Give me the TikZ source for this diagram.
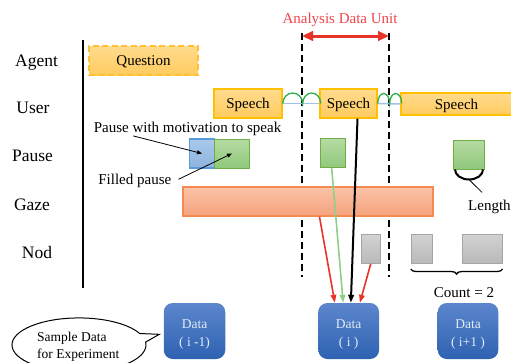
\documentclass[tikz,border=0pt]{standalone}
\usepackage{fontspec}
\setmainfont{Liberation Serif}
\usetikzlibrary{arrows.meta,decorations.pathreplacing,calc}
\definecolor{spBorder}{HTML}{FFC000}
\definecolor{spTop}{HTML}{FFDB8E}
\definecolor{spBot}{HTML}{FFCB5E}
\definecolor{qBorder}{HTML}{FFC12F}
\definecolor{gTop}{HTML}{B5DBA3}
\definecolor{gBot}{HTML}{90C87B}
\definecolor{gBorder}{HTML}{70AD47}
\definecolor{bTop}{HTML}{A9C9EB}
\definecolor{bBot}{HTML}{8DB4DF}
\definecolor{bBorder}{HTML}{5B9BD5}
\definecolor{zTop}{HTML}{FAC3A8}
\definecolor{zBot}{HTML}{F4A27C}
\definecolor{zBorder}{HTML}{F28A52}
\definecolor{nTop}{HTML}{D2D2D2}
\definecolor{nBot}{HTML}{B9B9B9}
\definecolor{nBorder}{HTML}{A6A6A6}
\definecolor{dTop}{HTML}{5C86CC}
\definecolor{dBot}{HTML}{2E62B2}
\definecolor{dText}{HTML}{E4EBF7}
\definecolor{arRed}{HTML}{E8332B}
\definecolor{lbRed}{HTML}{EE4449}
\definecolor{arGreen}{HTML}{8ED08A}
\definecolor{linkBlue}{HTML}{9DC3E6}
\definecolor{arcGreen}{HTML}{2FAE4E}
\tikzset{
  rowlab/.style={font=\fontsize{17.5}{21}\selectfont, anchor=base, inner sep=0pt},
  note/.style={font=\fontsize{15}{18}\selectfont, inner sep=0pt},
  speechbox/.style={draw=spBorder, line width=1.4pt, top color=spTop, bottom color=spBot,
     inner sep=0pt, text depth=0pt, font=\fontsize{15}{18}\selectfont},
  qbox/.style={draw=qBorder, line width=1.6pt, dash pattern=on 6pt off 3.5pt, top color=spTop, bottom color=spBot,
     inner sep=0pt, text depth=0pt, font=\fontsize{15}{18}\selectfont},
  gpause/.style={draw=gBorder, line width=1pt, top color=gTop, bottom color=gBot, inner sep=0pt},
  bpause/.style={draw=bBorder, line width=1.8pt, top color=bTop, bottom color=bBot, inner sep=0pt},
  gazebox/.style={draw=zBorder, line width=1.1pt, top color=zTop, bottom color=zBot, inner sep=0pt},
  nodbox/.style={draw=nBorder, line width=1pt, top color=nTop, bottom color=nBot, inner sep=0pt},
  databox/.style={rounded corners=9pt, top color=dTop, bottom color=dBot, inner sep=0pt},
  datatxt/.style={text=dText, align=center, inner sep=0pt, font=\fontsize{13.5}{18}\selectfont},
  dline/.style={line width=1.8pt, dash pattern=on 7pt off 4pt},
  ptr/.style={line width=0.8pt, -{Triangle[length=5pt,width=4pt]}},
  toData/.style={line width=1.6pt, -{Triangle[length=8pt,width=5.5pt]}},
}
\begin{document}
\begin{tikzpicture}[x=1pt,y=-1pt]
\useasboundingbox (0,0) rectangle (511,362);

% axis and row labels
\coordinate (axT) at (83,40);
\coordinate (axB) at (83,288);
\draw[line width=1.3pt] (axT) -- (axB);
\node[rowlab] (lAgent) at (36.5,66) {Agent};
\node[rowlab] (lUser) at (33,113) {User};
\node[rowlab] (lPause) at (32.5,161) {Pause};
\node[rowlab] (lGaze) at (32,210.5) {Gaze};
\node[rowlab] (lNod) at (37,258) {Nod};

% analysis data unit
\coordinate (d1t) at (302,33);
\coordinate (d1b) at (302,277);
\coordinate (d2t) at (389,33);
\coordinate (d2b) at (389,277);
\draw[dline] (d1t) -- (d1b);
\draw[dline] (d2t) -- (d2b);
\draw[arRed, line width=3pt, {Triangle[length=11pt,width=9.5pt]}-{Triangle[length=11pt,width=9.5pt]}]
  ($(d1t)+(0,3)$) -- ($(d2t)+(0,3)$);
\node[note, text=lbRed, anchor=base] (adu) at (340,23.3) {Analysis Data Unit};

% agent / user
\node[qbox, minimum width=109pt, minimum height=29pt] (q) at (143.5,60.5) {Question};
\node[speechbox, minimum width=68pt, minimum height=29pt] (sp1) at (248,103.5) {Speech};
\node[speechbox, minimum width=57pt, minimum height=29pt] (sp2) at (348.5,103.5) {Speech};
\node[speechbox, minimum width=111pt, minimum height=22pt] (sp3) at (456.5,104) {Speech};

\draw[linkBlue, line width=1.5pt] (sp1.east) -- (sp2.west);
\draw[linkBlue, line width=1.5pt] (sp2.east) -- (sp3.west);
\draw[arcGreen, line width=1.3pt] (sp1.east) arc[start angle=180, end angle=360, x radius=10, y radius=10.5]
  arc[start angle=180, end angle=360, x radius=9, y radius=10.5];
\draw[arcGreen, line width=1.3pt] (sp2.east) arc[start angle=180, end angle=360, x radius=6, y radius=10]
  arc[start angle=180, end angle=360, x radius=6, y radius=10];

% pause
\node[bpause, minimum width=25pt, minimum height=29pt] (pb) at (202,153.5) {};
\node[gpause, minimum width=35pt, minimum height=29pt] (g1) at (232,153.5) {};
\node[gpause, minimum width=25pt, minimum height=29.5pt] (g2) at (332.5,153) {};
\node[gpause, minimum width=31.5pt, minimum height=29pt] (g3) at (469,154.5) {};

\node[note, anchor=base] (pwm) at (187.5,132) {Pause with motivation to speak};
\node[note, anchor=base] (fp) at (134.8,184) {Filled pause};
\draw[ptr] ($(pwm.south west)+(39.7,0.5)$) -- (pb.center);
\draw[ptr] ($(fp.base east)+(7,-4.7)$) -- (g1.center);

% length
\draw[line width=2pt] ($(g3.south)+(-14,0)$) arc[start angle=180, end angle=0, x radius=14, y radius=10];
\node[note, anchor=base west] (len) at (468,210) {Length};
\coordinate (lenA) at ($(g3.south)+(0,10)$);
\coordinate (lenB) at ($(len.north west)+(14,-7)$);
\draw[line width=0.8pt] (lenA) -- (lenB);

% gaze
\node[gazebox, minimum width=250pt, minimum height=29pt] (gaze) at (308,201.5) {};

% nod
\node[nodbox, minimum width=19pt, minimum height=29pt] (n1) at (370.5,249) {};
\node[nodbox, minimum width=21.5pt, minimum height=29pt] (n2) at (422,248.5) {};
\node[nodbox, minimum width=40pt, minimum height=29pt] (n3) at (482,248.5) {};
\draw[line width=1.3pt, decorate, decoration={brace, mirror, amplitude=5pt}]
  ($(n2.south west)+(0,5.5)$) -- ($(n3.south east)+(0,5.5)$);
\node[note, anchor=base] (cnt) at (464,297) {Count = 2};

% data
\node[databox, minimum width=61.5pt, minimum height=56pt] (d0) at (194.5,331) {};
\node[databox, minimum width=60.7pt, minimum height=56pt] (di) at (348.7,331) {};
\node[databox, minimum width=60.6pt, minimum height=56pt] (d2) at (468,331) {};
\node[datatxt] (t0) at ($(d0.center)+(0,3.5)$) {Data\\( i -1)};
\node[datatxt] (ti) at ($(di.center)+(0,3.5)$) {Data\\( i )};
\node[datatxt] (t2) at ($(d2.center)+(0,3.5)$) {Data\\( i+1 )};

% connectors into Data(i)
\draw[toData, arRed] ($(gaze.south west)+(137,0)$) -- ($(di.north west)+(16.7,0)$);
\draw[toData, arGreen] ($(g2.south)+(-0.8,0)$) -- ($(di.north west)+(25,0)$);
\draw[toData, black, line width=2pt] ($(sp2.south)+(9,0)$) -- ($(di.north west)+(32.7,0)$);
\draw[toData, arRed] ($(n1.south)+(0.2,0)$) -- ($(di.north west)+(41.7,0)$);

% callout
\coordinate (tip) at ($(d0.west)+(-4.2,3.3)$);
\draw[line width=1pt, fill=white] (145.6,342.1) arc[start angle=-6, end angle=335, x radius=67, y radius=27]
  -- (tip) -- cycle;
\node[font=\fontsize{13.5}{17}\selectfont, align=left, anchor=west, inner sep=0pt] (sd) at (37,346.5)
  {Sample Data\\for Experiment};
\end{tikzpicture}
\end{document}
